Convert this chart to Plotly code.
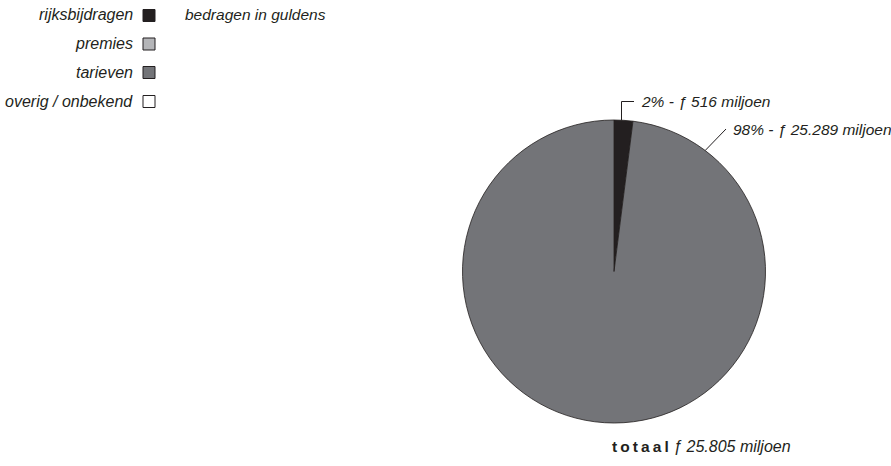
import math
import plotly.graph_objects as go

# Financing sources (amounts in millions of guilders)
categories = ["rijksbijdragen", "premies", "tarieven", "overig / onbekend"]
amounts = [516, 0, 25289, 0]
colors = ["#231f20", "#b4b5b8", "#737478", "#ffffff"]

W, H = 891, 466
FONT = "Liberation Sans, Arial, sans-serif"
FS = 15.5
INK = "#231f20"


def px(x):
    return x / W


def py(y):
    return 1 - y / H


def guilders(v):
    return f"{v:,}".replace(",", ".")


total = sum(amounts)
shown = [(c, a, col) for c, a, col in zip(categories, amounts, colors) if a > 0]

# Pie geometry in page pixels
cx, cy, r = 614, 271.5, 151.5

fig = go.Figure(
    go.Pie(
        labels=[s[0] for s in shown],
        values=[s[1] for s in shown],
        marker=dict(colors=[s[2] for s in shown], line=dict(color=INK, width=0.8)),
        sort=False,
        direction="clockwise",
        rotation=0,
        textinfo="none",
        hoverinfo="label+value+percent",
        showlegend=False,
        domain=dict(x=[px(cx - r), px(cx + r)], y=[py(cy + r), py(cy - r)]),
    )
)

shapes = []
annotations = []

# Legend: label on the left, swatch on the right
row_y = [15.5, 44, 72.5, 101.5]
for cat, col, y in zip(categories, colors, row_y):
    annotations.append(dict(
        x=px(135), y=py(y - 0.5), xref="paper", yref="paper", xanchor="right", yanchor="middle",
        text=f"<i>{cat}</i>", showarrow=False, font=dict(family=FONT, size=16, color=INK),
    ))
    shapes.append(dict(
        type="rect", xref="paper", yref="paper",
        x0=px(143), x1=px(155), y0=py(y - 6), y1=py(y + 6),
        fillcolor=col, line=dict(color=INK, width=1),
    ))

annotations.append(dict(
    x=px(183), y=py(15), xref="paper", yref="paper", xanchor="left", yanchor="middle",
    text="<i>bedragen in guldens</i>", showarrow=False, font=dict(family=FONT, size=FS, color=INK),
))

# Slice labels with leader lines
fracs = [a / total for a in amounts]
first = 0
mid = math.radians(fracs[first] * 360 / 2)
ex = cx + r * math.sin(mid) - 2
ey = cy - r * math.cos(mid)
shapes.append(dict(type="line", xref="paper", yref="paper",
                   x0=px(ex), y0=py(ey), x1=px(ex), y1=py(101.5), line=dict(color=INK, width=1)))
shapes.append(dict(type="line", xref="paper", yref="paper",
                   x0=px(ex), y0=py(101.5), x1=px(634), y1=py(101.5), line=dict(color=INK, width=1)))
annotations.append(dict(
    x=px(639), y=py(101), xref="paper", yref="paper", xanchor="left", yanchor="middle",
    text=f"<i>{round(fracs[first] * 100)}% - ƒ {guilders(amounts[first])} miljoen</i>",
    showarrow=False, font=dict(family=FONT, size=FS, color=INK),
))

second = 2
ang = math.radians(37)
sx = cx + r * math.sin(ang)
sy = cy - r * math.cos(ang)
shapes.append(dict(type="line", xref="paper", yref="paper",
                   x0=px(sx), y0=py(sy), x1=px(726), y1=py(129), line=dict(color=INK, width=1)))
annotations.append(dict(
    x=px(731), y=py(129.5), xref="paper", yref="paper", xanchor="left", yanchor="middle",
    text=f"<i>{round(fracs[second] * 100)}% - ƒ {guilders(amounts[second])} miljoen</i>",
    showarrow=False, font=dict(family=FONT, size=FS, color=INK),
))

# Total under the pie
spaced = "\u2009".join("totaal")
annotations.append(dict(
    x=px(610), y=py(446.5), xref="paper", yref="paper", xanchor="left", yanchor="middle",
    text=f"<b>{spaced}</b> <i><span style='font-size:16px'>ƒ {guilders(total)} miljoen</span></i>",
    showarrow=False, font=dict(family=FONT, size=FS, color=INK),
))

fig.update_layout(
    width=W, height=H,
    margin=dict(l=0, r=0, t=0, b=0),
    paper_bgcolor="white", plot_bgcolor="white",
    shapes=shapes, annotations=annotations,
)

fig.write_html("out.html")
